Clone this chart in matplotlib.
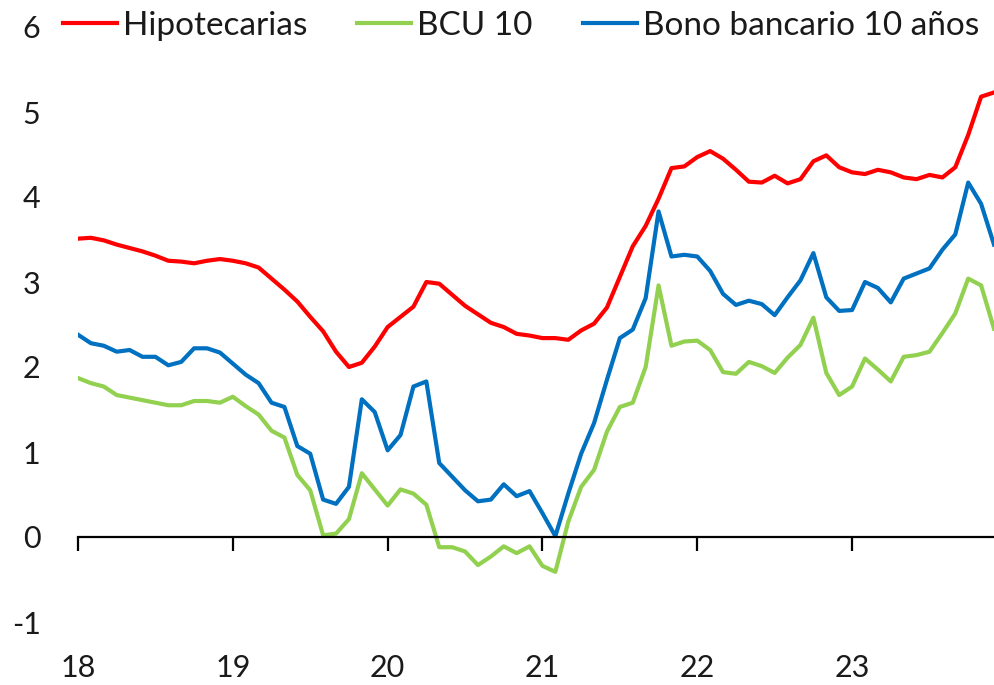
import matplotlib
matplotlib.use("Agg")
import matplotlib.pyplot as plt
import matplotlib.transforms as mtransforms

# Monthly data, Jan 2018 - Dec 2023
hipotecarias = [3.51, 3.52, 3.49, 3.44, 3.40, 3.36, 3.31, 3.25, 3.24, 3.22, 3.25, 3.27,
                3.25, 3.22, 3.17, 3.04, 2.91, 2.77, 2.59, 2.42, 2.18, 2.00, 2.05, 2.24,
                2.47, 2.59, 2.71, 3.00, 2.98, 2.85, 2.72, 2.62, 2.52, 2.47, 2.39, 2.37,
                2.34, 2.34, 2.32, 2.43, 2.51, 2.70, 3.06, 3.42, 3.66, 3.98, 4.34, 4.36,
                4.47, 4.54, 4.45, 4.32, 4.18, 4.17, 4.25, 4.16, 4.21, 4.42, 4.49, 4.35,
                4.29, 4.27, 4.32, 4.29, 4.23, 4.21, 4.26, 4.23, 4.35, 4.73, 5.18, 5.23]
bcu10 = [1.87, 1.81, 1.77, 1.67, 1.64, 1.61, 1.58, 1.55, 1.55, 1.60, 1.60, 1.58,
         1.65, 1.54, 1.44, 1.25, 1.17, 0.73, 0.55, 0.02, 0.04, 0.21, 0.75, 0.56,
         0.37, 0.56, 0.51, 0.38, -0.12, -0.12, -0.17, -0.33, -0.23, -0.11, -0.19, -0.11,
         -0.34, -0.41, 0.18, 0.59, 0.79, 1.24, 1.53, 1.58, 2.00, 2.96, 2.25, 2.30,
         2.31, 2.20, 1.94, 1.92, 2.06, 2.01, 1.93, 2.11, 2.26, 2.58, 1.93, 1.67,
         1.77, 2.10, 1.97, 1.83, 2.12, 2.14, 2.18, 2.40, 2.63, 3.04, 2.96, 2.45]
bono_bancario = [2.38, 2.28, 2.25, 2.18, 2.20, 2.12, 2.12, 2.02, 2.06, 2.22, 2.22, 2.17,
                 2.04, 1.91, 1.81, 1.58, 1.53, 1.07, 0.98, 0.44, 0.39, 0.59, 1.62, 1.47,
                 1.02, 1.20, 1.77, 1.83, 0.87, 0.71, 0.55, 0.42, 0.44, 0.62, 0.48, 0.54,
                 0.28, 0.01, 0.51, 0.98, 1.34, 1.85, 2.34, 2.44, 2.81, 3.83, 3.30, 3.32,
                 3.30, 3.13, 2.86, 2.73, 2.78, 2.74, 2.61, 2.82, 3.02, 3.34, 2.82, 2.66,
                 2.67, 3.00, 2.93, 2.76, 3.04, 3.10, 3.16, 3.38, 3.56, 4.17, 3.92, 3.44]

series_names = ["Hipotecarias", "BCU 10", "Bono bancario 10 años"]
year_labels = ["18", "19", "20", "21", "22", "23"]
y_ticks = [-1, 0, 1, 2, 3, 4, 5, 6]

plt.rcParams['font.family'] = ['Lato', 'DejaVu Sans']

fig = plt.figure(figsize=(9.94, 6.85), dpi=100)
ax = fig.add_axes([78/994, 1-622/685, 1-78/994, (622-27)/685])

x = list(range(len(hipotecarias)))
ax.plot(x, hipotecarias, color="#FF0000", lw=3, label=series_names[0], solid_joinstyle='round')
ax.plot(x, bcu10, color="#92D050", lw=3, label=series_names[1], solid_joinstyle='round')
ax.plot(x, bono_bancario, color="#0070C0", lw=3, label=series_names[2], solid_joinstyle='round')

ax.set_xlim(0, len(x) - 1)
ax.set_ylim(-1, 6)
ax.set_yticks(y_ticks)
ax.set_yticklabels([str(v) for v in y_ticks], fontsize=22, color="#1a1a1a")
ax.tick_params(axis='y', length=0, pad=27)

for s in ["left", "right", "top"]:
    ax.spines[s].set_visible(False)
ax.spines["bottom"].set_position(("data", 0))
ax.spines["bottom"].set_linewidth(1.6)
ax.spines["bottom"].set_color("black")

year_pos = [12 * i for i in range(len(year_labels))]
ax.set_xticks(year_pos)
ax.set_xticklabels([""] * len(year_pos))
ax.tick_params(axis='x', direction='out', length=10, width=1.6, color="black")

trans = mtransforms.blended_transform_factory(ax.transData, ax.transAxes)
for p, lab in zip(year_pos, year_labels):
    ax.text(p, -0.077, lab, transform=trans, ha='center', va='center',
            fontsize=22, color="#1a1a1a", clip_on=False)

leg = fig.legend(loc='center left', bbox_to_anchor=(63/994, 1 - 26/685), ncol=3, frameon=False,
                 fontsize=24, handlelength=1.62, handletextpad=0.18, columnspacing=1.5,
                 borderaxespad=0, borderpad=0)
for t in leg.get_texts():
    t.set_color("#1a1a1a")

fig.savefig("out.png", dpi=100, facecolor="white")
